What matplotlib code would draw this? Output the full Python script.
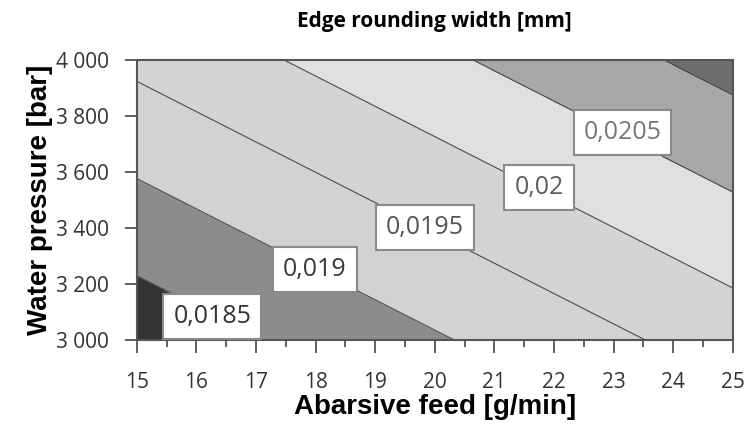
import numpy as np
import matplotlib.pyplot as plt
from matplotlib.ticker import MultipleLocator, FuncFormatter

# grid (edge rounding width in mm)
feed = [15, 20, 25]
pressure = [3000, 3500, 4000]
width = [[0.01817, 0.01895, 0.01973],
         [0.01889, 0.01967, 0.02046],
         [0.01961, 0.02040, 0.02118]]

levels = [0.0185, 0.019, 0.0195, 0.02, 0.0205, 0.021]
band_colors = ['#333333', '#8c8c8c', '#d2d2d2', '#d4d4d4', '#e0e0e0', '#a8a8a8', '#6e6e6e']

# label positions (feed, pressure) and text colours
label_pos = [(16.27, 3085), (17.99, 3252), (19.83, 3401), (21.75, 3544), (23.15, 3741)]
label_txt = ['0,0185', '0,019', '0,0195', '0,02', '0,0205']
label_col = ['#333333', '#3a3a3a', '#555555', '#5e5e5e', '#777777']

X, Y = np.meshgrid(feed, pressure)
Z = np.array(width)

fig = plt.figure(figsize=(7.47, 4.34), dpi=100)
ax = fig.add_axes([0.183, 0.217, 0.798, 0.645])

ax.contourf(X, Y, Z, levels=[0.0] + levels + [1.0], colors=band_colors)
ax.contour(X, Y, Z, levels=levels, colors='#4a4a4a', linewidths=0.8)

for (px, py), t, c in zip(label_pos, label_txt, label_col):
    ax.text(px, py, t, ha='center', va='center', fontsize=18, color=c,
            family='Open Sans', zorder=5,
            bbox=dict(boxstyle='square,pad=0.4', fc='white', ec='#8a8a8a', lw=1.5))

ax.set_xlim(15, 25)
ax.set_ylim(3000, 4000)
ax.xaxis.set_major_locator(MultipleLocator(1))
ax.xaxis.set_minor_locator(MultipleLocator(0.5))
ax.yaxis.set_major_locator(MultipleLocator(200))
ax.yaxis.set_major_formatter(FuncFormatter(lambda v, p: '{:,.0f}'.format(v).replace(',', ' ')))

for s in ax.spines.values():
    s.set_color('#555555')
    s.set_linewidth(1.5)
ax.tick_params(axis='both', which='major', length=9, width=1.3, color='#555555',
               labelsize=15, labelcolor='#333333')
ax.tick_params(axis='x', which='minor', length=5, width=1.3, color='#555555')
ax.tick_params(axis='x', pad=14)
ax.tick_params(axis='y', pad=11)
for lab in ax.get_xticklabels() + ax.get_yticklabels():
    lab.set_family('Open Sans')

ax.set_xlabel('Abarsive feed [g/min]', fontsize=20, fontweight='bold',
              family='Liberation Sans', labelpad=1)
ax.set_ylabel('Water pressure [bar]', fontsize=20, fontweight='bold',
              family='Liberation Sans', labelpad=2)
ax.set_title('Edge rounding width [mm]', fontsize=15, fontweight='bold',
             family='Open Sans', pad=24)

fig.savefig('out.png', dpi=100)
